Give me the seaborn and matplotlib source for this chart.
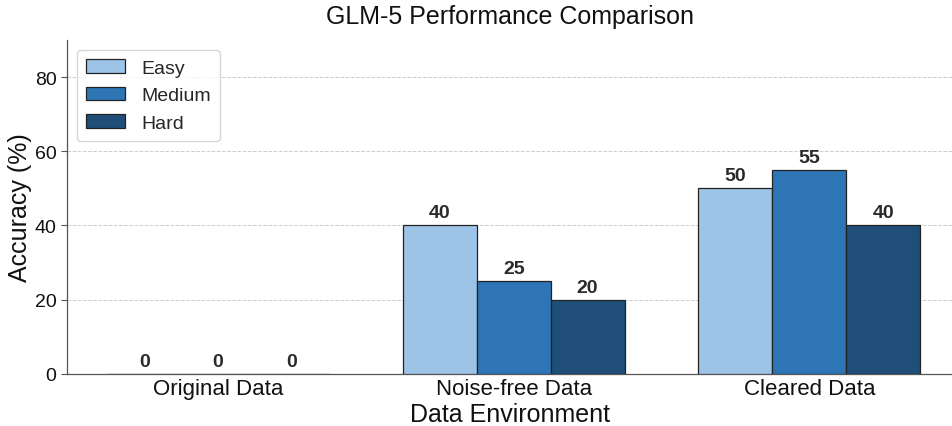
import matplotlib
matplotlib.use("Agg")
import matplotlib.pyplot as plt
import seaborn as sns
import pandas as pd

categories = ["Original Data", "Noise-free Data", "Cleared Data"]
difficulties = ["Easy", "Medium", "Hard"]
easy = [0, 40, 50]
medium = [0, 25, 55]
hard = [0, 20, 40]
colors = ["#9dc3e6", "#2e75b6", "#1f4e79"]

rows = []
for i, c in enumerate(categories):
    for d, vals in zip(difficulties, [easy, medium, hard]):
        rows.append({"Data Environment": c, "Difficulty": d, "Accuracy": vals[i]})
df = pd.DataFrame(rows)

sns.set_style("ticks")
plt.rcParams['font.family'] = ['Liberation Sans', 'DejaVu Sans']

fig = plt.figure(figsize=(9.53, 4.27), dpi=100)
ax = fig.add_axes([0.0703, 0.122, 0.93, 0.782])

sns.barplot(data=df, x="Data Environment", y="Accuracy", hue="Difficulty",
            palette=colors, width=0.75, edgecolor="#222222", linewidth=0.9,
            saturation=1, ax=ax, zorder=3)

for cont in ax.containers:
    ax.bar_label(cont, fmt="%d", fontweight="bold", fontsize=14, padding=3, color="#2a2a2a")

ax.set_ylim(0, 90)
ax.set_xlim(-0.511, 2.487)
ax.set_yticks([0, 20, 40, 60, 80])
ax.yaxis.grid(True, linestyle="--", color="#cccccc", linewidth=0.7, zorder=0)
ax.set_axisbelow(True)
ax.tick_params(axis="y", labelsize=14, colors="#555555", labelcolor="#111111", length=4)
ax.tick_params(axis="x", labelsize=16, length=0, labelcolor="#111111", pad=3)
ax.set_xlabel("Data Environment", fontsize=18, color="#111111", labelpad=2)
ax.set_ylabel("Accuracy (%)", fontsize=18, color="#111111", labelpad=2)
ax.set_title("GLM-5 Performance Comparison", fontsize=18, pad=12, color="#111111")
for s in ["top", "right"]:
    ax.spines[s].set_visible(False)
for s in ["left", "bottom"]:
    ax.spines[s].set_color("#555555")
    ax.spines[s].set_linewidth(0.9)

leg = ax.legend(loc="upper left", fontsize=14, frameon=True, title=None,
                borderpad=0.5)
leg.get_frame().set_edgecolor("#cccccc")

fig.savefig("out.png", dpi=100)
